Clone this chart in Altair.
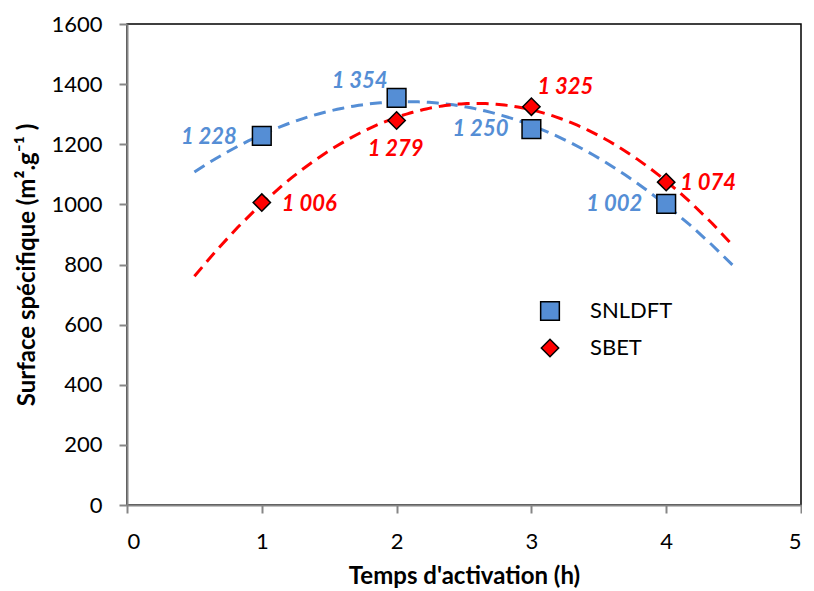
import altair as alt
import pandas as pd

# ---- data ----
temps = [1, 2, 3, 4]
snldft = [1228, 1354, 1250, 1002]
sbet = [1006, 1279, 1325, 1074]
series_names = ["SNLDFT", "SBET"]
x_ticks = [0, 1, 2, 3, 4, 5]
y_ticks = [0, 200, 400, 600, 800, 1000, 1200, 1400, 1600]

BLUE = "#558ED5"
RED = "#FF0000"
FONT = "Lato"

rows = []
for name, vals in zip(series_names, [snldft, sbet]):
    for i, (t, v) in enumerate(zip(temps, vals)):
        rows.append({"serie": name, "idx": i, "t": t, "v": v,
                     "label": f"{v:,}".replace(",", " ")})
df = pd.DataFrame(rows)

base = alt.Chart(df)

x_enc = alt.X("t:Q", scale=alt.Scale(domain=[0, 5], nice=False),
              axis=alt.Axis(values=x_ticks, format="d", title="Temps d'activation (h)",
                            labelPadding=18, titlePadding=12))
y_enc = alt.Y("v:Q", scale=alt.Scale(domain=[0, 1600], nice=False),
              axis=alt.Axis(values=y_ticks, format="d",
                            title="Surface spécifique (m².g⁻¹ )",
                            labelPadding=17, titlePadding=11))


def trend(name, color):
    return base.transform_filter(alt.datum.serie == name).transform_regression(
        "t", "v", method="poly", order=2, extent=[0.5, 4.5]
    ).mark_line(color=color, strokeWidth=3, strokeDash=[12, 7], strokeCap="butt").encode(
        x=x_enc, y=y_enc
    )


points = base.mark_point(filled=True, stroke="black", strokeWidth=1.5, opacity=1).encode(
    x=x_enc, y=y_enc,
    color=alt.Color("serie:N", scale=alt.Scale(domain=series_names, range=[BLUE, RED]),
                    legend=alt.Legend(title=None, orient="none", legendX=412, legendY=276,
                                      labelFont=FONT, labelFontSize=22, labelColor="black",
                                      symbolSize=290, symbolStrokeColor="black",
                                      symbolStrokeWidth=1.5, labelOffset=29,
                                      rowPadding=12, padding=0)),
    shape=alt.Shape("serie:N", scale=alt.Scale(domain=series_names, range=["square", "diamond"])),
    size=alt.Size("serie:N", scale=alt.Scale(domain=series_names, range=[350, 300]), legend=None),
)

label_specs = [
    # (serie, idx, align, dx, dy, color)
    ("SNLDFT", 0, "right", -25, 1, BLUE),
    ("SNLDFT", 1, "right", -9, -17, BLUE),
    ("SNLDFT", 2, "right", -23, 0, BLUE),
    ("SNLDFT", 3, "right", -24, 0, BLUE),
    ("SBET", 0, "left", 20, 1, RED),
    ("SBET", 1, "center", -1, 28, RED),
    ("SBET", 2, "left", 6, -20, RED),
    ("SBET", 3, "left", 14, 1, RED),
]

labels = []
for s, i, al, dx, dy, c in label_specs:
    labels.append(
        base.transform_filter((alt.datum.serie == s) & (alt.datum.idx == i)).mark_text(
            align=al, baseline="middle", dx=dx, dy=dy, font=FONT, fontSize=22,
            fontWeight="bold", fontStyle="italic", color=c
        ).encode(x=x_enc, y=y_enc, text="label:N")
    )

chart = alt.layer(trend("SNLDFT", BLUE), trend("SBET", RED), points, *labels).properties(
    width=674, height=481, padding={"left": 7, "top": 5, "right": 0, "bottom": 0}
).configure_view(stroke="black", strokeWidth=1.5).configure_axis(
    grid=False, labelFont=FONT, labelFontSize=22, labelColor="black",
    titleFont=FONT, titleFontSize=24, titleFontWeight="bold", titleColor="black",
    domainColor="#868686", domainWidth=2, tickColor="#868686", tickWidth=2, tickSize=8,
    zindex=1
)

chart.save("out.html", embed_options={"renderer": "svg", "actions": False})
